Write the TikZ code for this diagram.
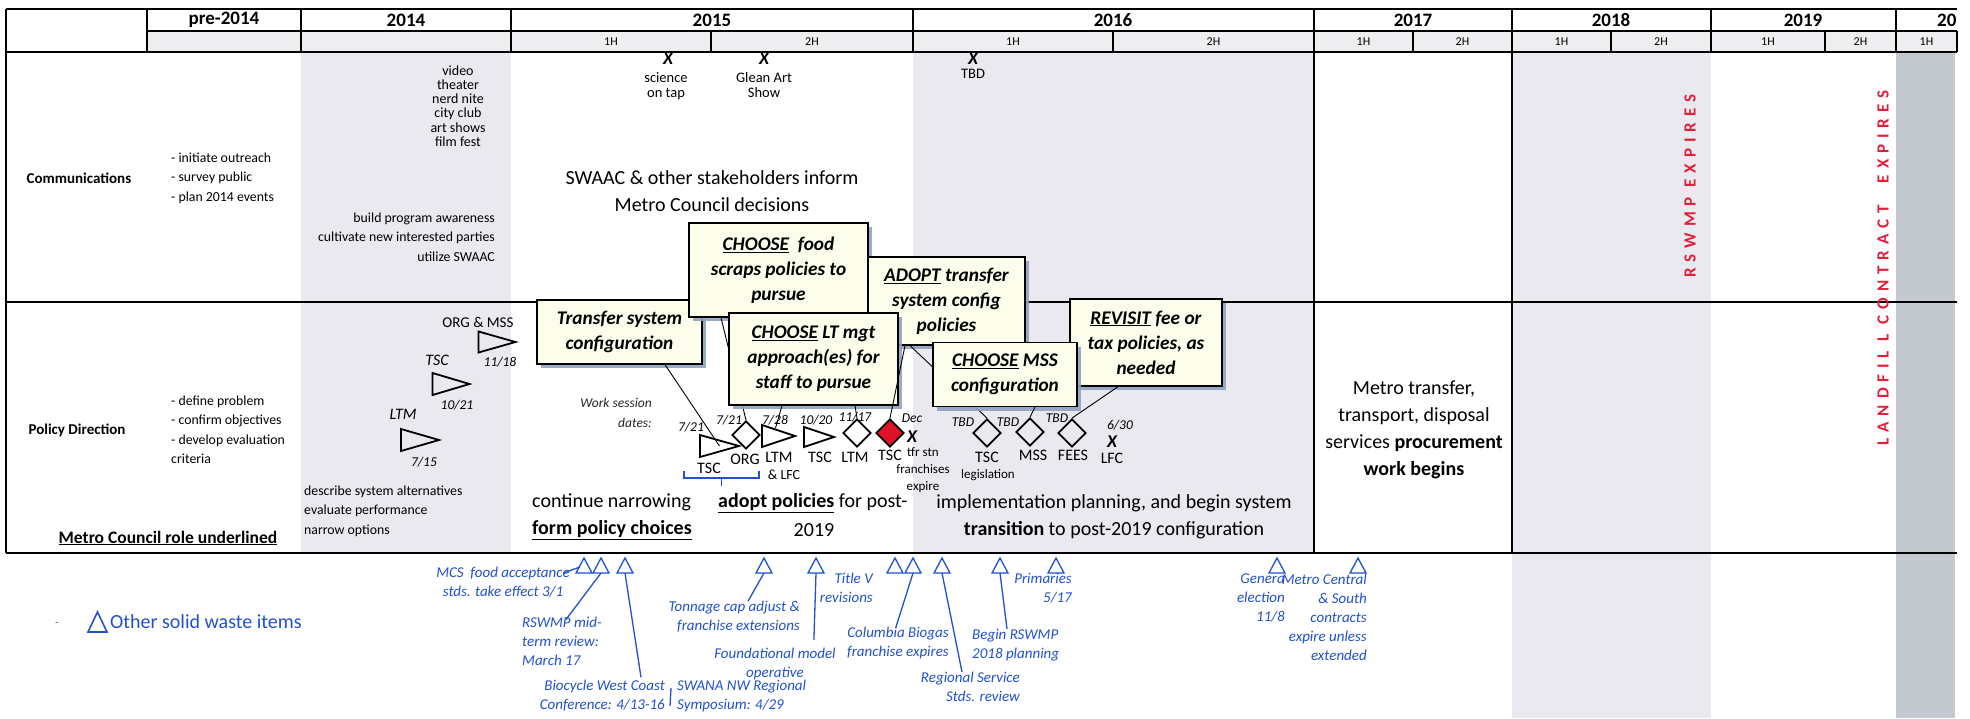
\documentclass[tikz,border=0pt]{standalone}
\usepackage{fontspec}
\setmainfont{Carlito}
\newfontfamily\redfont[LetterSpace=35]{Carlito}
\usetikzlibrary{shapes.geometric,shadows,calc}
\definecolor{shadecol}{RGB}{233,233,239}
\definecolor{hdrcol}{RGB}{238,238,241}
\definecolor{darkcol}{RGB}{196,200,207}
\definecolor{callfill}{RGB}{253,253,236}
\definecolor{shadowcol}{RGB}{142,162,192}
\definecolor{redtxt}{RGB}{226,30,58}
\definecolor{redfill}{RGB}{222,20,38}
\definecolor{myblue}{RGB}{34,80,208}
\newcommand\myfs[2]{\fontsize{#1}{#2}\selectfont}
\newcommand\rtri[5]{\coordinate (#1) at (#2,#3);
  \draw[tri] ({#2-#4/2},{#3-#5/2}) -- ({#2+#4/2},#3) -- ({#2-#4/2},{#3+#5/2}) -- cycle;}
\newcommand\btri[2]{\coordinate (#1) at (#2,573);
  \draw[bline,line join=miter] ({#2-8},573) -- (#2,558) -- ({#2+8},573) -- cycle;}
\begin{document}
\begin{tikzpicture}[x=1pt,y=-1pt,
  grid/.style={line width=1.3pt},
  thickgrid/.style={line width=2.2pt},
  hdr/.style={font=\bfseries\myfs{19}{22},inner sep=0pt},
  half/.style={font=\myfs{12}{13},inner sep=0pt},
  lbl/.style={font=\bfseries\myfs{15}{18},inner sep=0pt},
  txt/.style={font=\myfs{13.8}{19.5},inner sep=0pt},
  lst/.style={font=\myfs{14}{14.2},inner sep=0pt,align=center},
  big/.style={font=\myfs{20}{27},inner sep=0pt},
  xmk/.style={font=\bfseries\itshape\myfs{18}{20},inner sep=0pt},
  smallc/.style={font=\myfs{14.5}{15.5},inner sep=0pt,align=center},
  redv/.style={font=\redfont\bfseries\myfs{17}{18},text=redtxt,rotate=90,inner sep=0pt},
  callout/.style={draw=black,line width=1.3pt,fill=callfill,
    drop shadow={shadow xshift=4pt,shadow yshift=-4pt,fill=shadowcol,opacity=0.9},
    font=\bfseries\itshape\myfs{19.3}{25},align=center,inner sep=0pt},
  datel/.style={font=\itshape\myfs{13.5}{16},inner sep=0pt},
  mlab/.style={font=\myfs{16}{18},inner sep=0pt},
  tiny/.style={font=\myfs{13}{17},inner sep=0pt,align=center},
  diam/.style={diamond,draw,line width=1.8pt,minimum width=28pt,minimum height=28pt,inner sep=0pt},
  tri/.style={draw,line width=1.8pt,line join=miter},
  btxt/.style={text=myblue,font=\itshape\myfs{15}{19},inner sep=0pt},
  bline/.style={draw=myblue,line width=1.3pt},
  conn/.style={line width=0.9pt},
]
\useasboundingbox (0,0) rectangle (1970,718);
\fill[white] (0,0) rectangle (1970,718);
% shading
\fill[hdrcol] (147,31) rectangle (1957,52);
\fill[shadecol] (301,52) rectangle (511,553);
\fill[shadecol] (913,52) rectangle (1314,553);
\fill[shadecol] (1512,52) rectangle (1711,718);
\fill[darkcol] (1896,52) rectangle (1955,718);
% grid
\draw[grid] (6,9) -- (1957,9);
\draw[grid] (147,31) -- (1957,31);
\draw[thickgrid] (6,52) -- (1957,52);
\draw[grid] (6,302) -- (1957,302);
\draw[thickgrid] (6,553) -- (1957,553);
\draw[grid] (6,9) -- (6,553);
\foreach \xx in {147,301,511,913,1314,1512,1711,1896} \draw[grid] (\xx,9) -- (\xx,52);
\foreach \xx in {711,1113,1413,1611,1825,1957} \draw[grid] (\xx,31) -- (\xx,52);
\draw[grid] (1314,52) -- (1314,553);
\draw[grid] (1512,52) -- (1512,553);
% header
\node[hdr] (h0) at (224,20) {pre-2014};
\node[hdr] (h1) at (406,20) {2014};
\node[hdr] (h2) at (712,20) {2015};
\node[hdr] (h3) at (1113,20) {2016};
\node[hdr] (h4) at (1413,20) {2017};
\node[hdr] (h5) at (1611,20) {2018};
\node[hdr] (h6) at (1803,20) {2019};
\node[hdr,anchor=west] (h7) at (1937,20) {20};
\node[half] (q1) at (611,41.5) {1H};
\node[half] (q2) at (812,41.5) {2H};
\node[half] (q3) at (1013,41.5) {1H};
\node[half] (q4) at (1213.5,41.5) {2H};
\node[half] (q5) at (1363.5,41.5) {1H};
\node[half] (q6) at (1462.5,41.5) {2H};
\node[half] (q7) at (1561.5,41.5) {1H};
\node[half] (q8) at (1661,41.5) {2H};
\node[half] (q9) at (1768,41.5) {1H};
\node[half] (q10) at (1860.5,41.5) {2H};
\node[half] (q11) at (1926.5,41.5) {1H};
% communications row
\node[lbl] (comm) at (79,178) {Communications};
\node[txt,align=left,anchor=west] (commb) at (171,178) {- initiate outreach\\- survey public\\- plan 2014 events};
\node[lst] (events) at (458,106) {video\\theater\\nerd nite\\city club\\art shows\\film fest};
\node[txt,align=right,anchor=east] (aware) at (495,237) {build program awareness\\cultivate new interested parties\\utilize SWAAC};
\node[xmk] (x1) at (668,59) {X};
\node[smallc] (x1l) at (666,86) {science\\on tap};
\node[xmk] (x2) at (764,59) {X};
\node[smallc] (x2l) at (764,85) {Glean Art\\Show};
\node[xmk] (x3) at (973,59) {X};
\node[smallc] (x3l) at (973,74) {TBD};
\node[big,align=center] (swaac) at (712,191) {SWAAC \& other stakeholders inform\\Metro Council decisions};
\node[redv] (rsw) at (1690,186) {RSWMP EXPIRES};
\node[redv] (lfc) at (1883,268) {LANDFIL L CONTRACT\hspace{22pt}EXPIRES};
% policy row left
\node[lbl] (pol) at (77,430) {Policy Direction};
\node[txt,align=left,anchor=west] (polb) at (171,430) {- define problem\\- confirm objectives\\- develop evaluation\\criteria};
\node[font=\bfseries\myfs{17.5}{20},inner sep=0pt] (role) at (168,538) {\underline{Metro Council role underlined}};
\node[txt,align=left,anchor=west] (alt) at (304,511) {describe system alternatives\\evaluate performance\\narrow options};
\rtri{t1}{420}{440}{38}{22}
\node[font=\itshape\myfs{16}{18},inner sep=0pt] (t1a) at (403,414) {LTM};
\node[datel] (t1b) at (424,462) {7/15};
\rtri{t2}{451}{384}{37}{22}
\node[font=\itshape\myfs{16}{18},inner sep=0pt] (t2a) at (437,360) {TSC};
\node[datel] (t2b) at (457,405) {10/21};
\rtri{t3}{497}{342}{37}{21}
\node[font=\myfs{15}{18},inner sep=0pt] (t3a) at (478,322) {ORG \& MSS};
\node[datel] (t3b) at (500,362) {11/18};
% policy row 2015-2016 markers
\node[font=\itshape\myfs{13.5}{20},inner sep=0pt,align=right,anchor=east,text=black!85] (ws) at (652,413) {Work session\\dates:};
\rtri{t4}{719.5}{446}{39}{22}
\rtri{t5}{778.5}{436}{33}{22}
\rtri{t6}{819}{437}{30}{20}
\node[diam] (dORG) at (746,435) {};
\node[diam] (dLTM) at (857,433) {};
\node[diam,fill=redfill] (dRed) at (890,433) {};
\node[diam] (dTSC) at (987,433) {};
\node[diam] (dMSS) at (1030,432) {};
\node[diam] (dFEE) at (1072,433) {};
\node[datel] (l1) at (691,427) {7/21};
\node[mlab] (l2) at (709,468) {TSC};
\node[datel] (l3) at (729,420) {7/21};
\node[mlab] (l4) at (745,459) {ORG};
\node[datel] (l5) at (775,420) {7/28};
\node[mlab] (l6) at (779,457) {LTM};
\node[font=\myfs{14}{16},inner sep=0pt] (l6b) at (784,475) {\& LFC};
\node[datel] (l7) at (816,420) {10/20};
\node[mlab] (l8) at (820,457) {TSC};
\node[datel] (l9) at (855,417) {11/17};
\node[mlab] (l10) at (855,457) {LTM};
\node[datel] (l11) at (912,418) {Dec};
\node[mlab] (l12) at (890,455) {TSC};
\node[xmk] (l13) at (912,437) {X};
\node[tiny] (l14) at (923,470) {tfr stn\\franchises\\expire};
\node[datel] (l15) at (963,422) {TBD};
\node[mlab] (l16) at (987,457) {TSC};
\node[tiny] (l17) at (988,475) {legislation};
\node[datel] (l18) at (1008,422) {TBD};
\node[mlab] (l19) at (1033,455) {MSS};
\node[datel] (l20) at (1057,418) {TBD};
\node[mlab] (l21) at (1073,455) {FEES};
\node[datel] (l22) at (1120,425) {6/30};
\node[xmk] (l23) at (1112,442) {X};
\node[mlab] (l24) at (1112,458) {LFC};
\draw[bline] (684,471) -- (684,478) -- (759,478) -- (759,471);
\draw[bline] (721.5,478) -- (721.5,486);
% policy texts
\node[big,anchor=west,align=left] (p1) at (532,516.5) {continue narrowing\\\textbf{\underline{form policy choices}}};
\node[big,anchor=west] (p2) at (718,503) {\textbf{\underline{adopt policies}} for post-};
\node[big] (p3) at (814,530) {2019};
\node[big,align=center] (p4) at (1114,516.5) {implementation planning, and begin system\\\textbf{transition} to post-2019 configuration};
\node[big,align=center] (p5) at (1414,430) {Metro transfer,\\transport, disposal\\services \textbf{procurement}\\\textbf{work begins}};
% callouts
\node[callout,minimum width=165pt,minimum height=64pt] (bxT) at (619.5,332) {Transfer system\\configuration};
\node[callout,minimum width=179pt,minimum height=94pt] (bxF) at (778.5,270) {\underline{CHOOSE}\ \ food\\scraps policies to\\pursue};
\node[callout,minimum width=157pt,minimum height=88pt] (bxA) at (946.5,301) {\underline{ADOPT} transfer\\system config\\policies};
\node[callout,minimum width=152pt,minimum height=87pt] (bxR) at (1146,342.5) {\underline{REVISIT} fee or\\tax policies, as\\needed};
\draw[conn] ($(bxT.south)+(45.5,0)$) -- (t4);
\draw[conn] ($(bxF.south)+(-57.5,0)$) -- (dORG.north);
\draw[conn] ($(bxA.south)+(-36.5,0)$) -- (dTSC.north);
\draw[conn] ($(bxR.south)+(-28,0)$) -- (dFEE.north);
\node[callout,minimum width=169pt,minimum height=92pt] (bxL) at (813.5,359) {\underline{CHOOSE} LT mgt\\approach(es) for\\staff to pursue};
\node[callout,minimum width=144pt,minimum height=64pt] (bxM) at (1005,374.5) {\underline{CHOOSE} MSS\\configuration};
\draw[conn] ($(bxL.south)+(-31.5,0)$) -- ($(t5)+(-3,-8)$);
\draw[conn] ($(bxL.south)+(41.5,0)$) -- (dLTM.north);
\draw[conn] ($(bxA.south)+(-41.5,0)$) -- (dRed.north);
\draw[conn] ($(bxM.south)+(30,0)$) -- (dMSS.north);
% bottom blue items
\btri{b1}{584}
\btri{b2}{601}
\btri{b3}{625}
\btri{b4}{764}
\btri{b5}{816}
\btri{b6}{895}
\btri{b7}{913}
\btri{b8}{942}
\btri{b9}{1000}
\btri{b10}{1056}
\btri{b11}{1277}
\btri{b12}{1358}
\node[btxt,align=center] (n1) at (503,582) {MCS\ \ food acceptance\\stds. take effect 3/1};
\node[btxt,align=left,anchor=west] (n2) at (522,641) {RSWMP mid-\\term review:\\March 17};
\node[btxt,align=right,anchor=east] (n3) at (665,696) {Biocycle West Coast\\Conference: 4/13-16};
\node[btxt,align=left,anchor=west] (n4) at (677,696) {SWANA NW Regional\\Symposium: 4/29};
\node[btxt,align=right,anchor=east] (n5) at (800,617) {Tonnage cap adjust \&\\franchise extensions};
\node[btxt,align=center] (n6) at (775,664) {Foundational model\\operative};
\node[btxt,align=right,anchor=east] (n7) at (873,588) {Title V\\revisions};
\node[btxt,align=center] (n8) at (898,643) {Columbia Biogas\\franchise expires};
\node[btxt,align=right,anchor=east] (n9) at (1020,687) {Regional Service\\Stds. review};
\node[btxt,align=left,anchor=west] (n10) at (972,645) {Begin RSWMP\\2018 planning};
\node[btxt,align=right,anchor=east] (n11) at (1072,588) {Primaries\\5/17};
\node[btxt,align=right,anchor=east] (n12) at (1285,598) {Genera\\election\\11/8};
\node[btxt,align=right,anchor=east] (n13) at (1367,617) {Metro Central\\\& South\\contracts\\expire unless\\extended};
\draw[bline] ($(n1.north east)+(-6,6)$) -- ($(b1)+(-4,-6)$);
\draw[bline] (b2) -- ($(n2.north west)+(44,3)$);
\draw[bline] (b3) -- ($(n3.north east)+(-24,-3)$);
\draw[bline] (b4) -- ($(n5.north east)+(-52,0)$);
\draw[bline] (b5) -- ($(n6.north east)+(-22,-8)$);
\draw[bline] (b7) -- ($(n8.north)+(-2,0)$);
\draw[bline] (b8) -- ($(n9.north east)+(-58,0)$);
\draw[bline] (b9) -- ($(n10.north west)+(35,0)$);
\draw[bline] ($(n4.west)+(-6,-8)$) -- ($(n4.west)+(-7,10)$);
% legend
\node[font=\myfs{12}{14},text=black!55,inner sep=0pt] (dash) at (57,625) {-};
\draw[bline,line width=1.6pt,line join=miter] (88,632) -- (97.5,612) -- (107,632) -- cycle;
\node[text=myblue,font=\myfs{20}{24},anchor=west,inner sep=0pt] (leg) at (110,622) {Other solid waste items};
\end{tikzpicture}
\end{document}
